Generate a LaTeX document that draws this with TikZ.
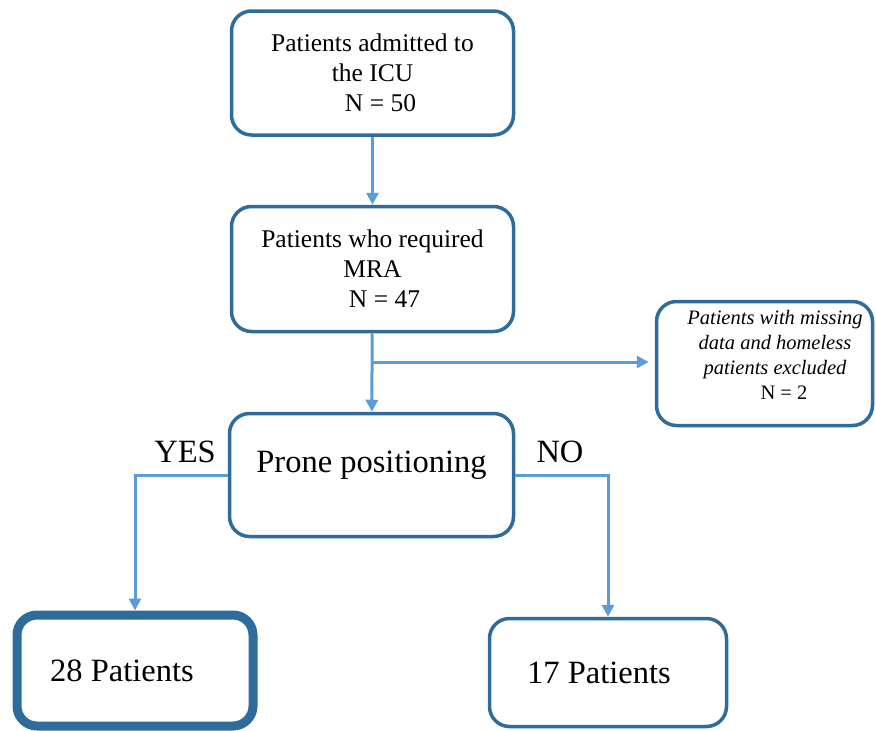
\documentclass[tikz,border=0pt]{standalone}
\usepackage{fontspec}
\setmainfont{Liberation Serif}
\usepackage{xcolor}
\usepackage{tikz}
\usetikzlibrary{arrows.meta, positioning}
\definecolor{boxblue}{RGB}{46,108,155}
\definecolor{arrowblue}{RGB}{91,157,214}
\tikzstyle{box} = [draw=boxblue, line width=3.5pt, rounded corners=20pt, align=center, inner sep=0pt, font=\fontsize{25.5}{30}\selectfont]
\tikzstyle{bigtext} = [font=\fontsize{32.5}{38}\selectfont]
\tikzstyle{arrow} = [draw=arrowblue, line width=3pt, -{Triangle[length=12pt,width=12pt]}]

\begin{document}
\begin{tikzpicture}[x=1pt, y=-1pt]
    \useasboundingbox (0,0) rectangle (876,731);
    \clip (0,0) rectangle (876,731);

    % Admitted
    \node[box, minimum width=282pt, minimum height=124pt] (adm) at (372.5,73)
        {Patients admitted to\\the ICU\\\hspace*{16pt}N = 50};

    % MRA
    \node[box, minimum width=282pt, minimum height=125pt] (mra) at (372.5,269)
        {Patients who required\\MRA\\\hspace*{24pt}N = 47};

    % Excluded
    \node[box, minimum width=216pt, minimum height=124pt] (excl) at (764.5,363.5) {};
    \node[align=center, font=\fontsize{20.5}{25}\selectfont] (excltxt) at (775,355)
        {\textit{Patients with missing}\\\textit{data and homeless}\\\textit{patients excluded}\\\hspace*{18pt}N = 2};

    % Prone positioning
    \node[box, minimum width=284pt, minimum height=123pt] (prone) at (371.5,475) {};
    \node[bigtext] (pronelbl) at (371.5,465) {Prone positioning};
    \node[bigtext] (yes) at (185,452) {YES};
    \node[bigtext] (no) at (560,452) {NO};

    % Outcomes
    \node[box, line width=9pt, minimum width=236pt, minimum height=111pt, bigtext] (pat28) at (135,670.5) {28 Patients\hspace*{26pt}};
    \node[box, minimum width=237pt, minimum height=108pt, bigtext] (pat17) at (608,672.5) {17 Patients\hspace*{18pt}};

    % Arrows
    \coordinate (split) at (372.5,362);
    \draw[arrow] (adm) -- (mra);
    \draw[arrow] (mra) -- (prone);
    \draw[arrow, shorten >=6pt] (split) -- (excl.west |- split);
    \draw[arrow] (prone.west) -| (pat28.north);
    \draw[arrow] (prone.east) -| (pat17.north);
\end{tikzpicture}
\end{document}
